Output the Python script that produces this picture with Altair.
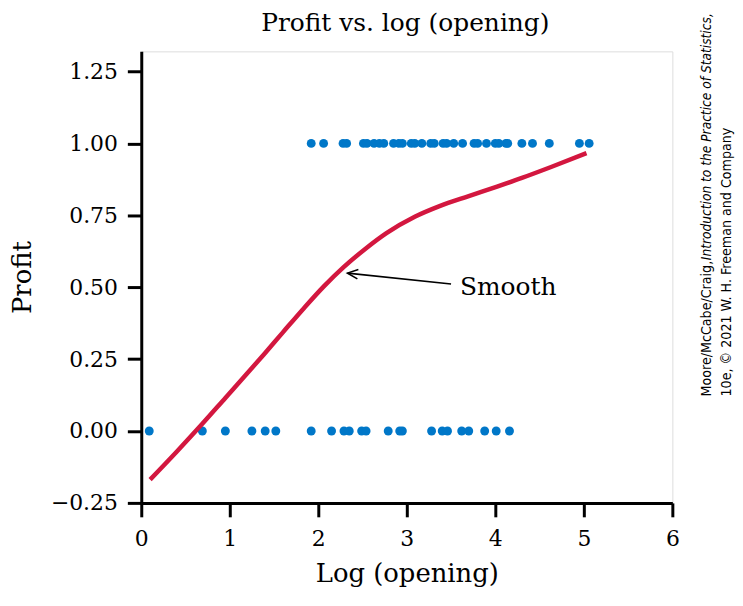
import altair as alt
import pandas as pd

# ---- data ----
top_x = [1.92, 2.06, 2.28, 2.32, 2.51, 2.55, 2.63, 2.69, 2.74, 2.85, 2.91, 2.95,
         3.05, 3.09, 3.17, 3.27, 3.31, 3.41, 3.45, 3.53, 3.63, 3.76, 3.80, 3.90,
         4.00, 4.04, 4.12, 4.14, 4.30, 4.42, 4.61, 4.95, 5.06]
bottom_x = [0.09, 0.69, 0.95, 1.25, 1.40, 1.52, 1.92, 2.15, 2.29, 2.35, 2.49, 2.54,
            2.79, 2.92, 2.95, 3.28, 3.40, 3.46, 3.62, 3.70, 3.88, 4.01, 4.16]
smooth_x = [0.10, 0.40, 0.69, 0.95, 1.19, 1.39, 1.60, 1.84, 2.06, 2.28, 2.53,
            2.77, 3.09, 3.37, 3.70, 4.02, 4.30, 4.63, 5.03]
smooth_y = [-0.169, -0.072, 0.025, 0.115, 0.198, 0.268, 0.343, 0.428, 0.502,
            0.568, 0.633, 0.688, 0.745, 0.782, 0.817, 0.850, 0.880, 0.918, 0.966]
arrow_x = [3.50, 2.33]
arrow_y = [0.511, 0.549]
label_text = ["Smooth"]
label_x = [3.60]
label_y = [0.50]
x_ticks = [0, 1, 2, 3, 4, 5, 6]
y_ticks = [-0.25, 0.0, 0.25, 0.50, 0.75, 1.00, 1.25]
title_text = ["Profit vs. log (opening)"]
credit_1a = ["Moore/McCabe/Craig, "]
credit_1b = ["Introduction to the Practice of Statistics,"]
credit_2 = ["10e, \u00a9 2021 W. H. Freeman and Company"]

SERIF = "DejaVu Serif"
NARROW = "Liberation Sans Narrow, DejaVu Sans Condensed, sans-serif"
W, H = 534, 454

pts = pd.DataFrame({"x": top_x + bottom_x,
                    "y": [1.0] * len(top_x) + [0.0] * len(bottom_x)})
smooth = pd.DataFrame({"x": smooth_x, "y": smooth_y})
arrow = pd.DataFrame({"x": arrow_x, "y": arrow_y})
tip = pd.DataFrame({"x": arrow_x[1:], "y": arrow_y[1:]})
lab = pd.DataFrame({"t": label_text, "x": label_x, "y": label_y})

xs = alt.Scale(domain=[0, 6], nice=False, zero=False)
ys = alt.Scale(domain=[-0.25, 1.32], nice=False, zero=False)

x_enc = alt.X("x:Q", scale=xs, axis=alt.Axis(
    values=x_ticks, format="d", title="Log (opening)", grid=False, labelFlush=False,
    labelFont=SERIF, labelFontSize=22, labelColor="black", labelPadding=12,
    titleFont=SERIF, titleFontSize=26, titleFontWeight="normal", titleColor="black",
    titlePadding=11, tickSize=14, tickWidth=3, tickColor="black",
    domainWidth=3, domainColor="black"))
y_enc = alt.Y("y:Q", scale=ys, axis=alt.Axis(
    values=y_ticks, format=".2f", title="Profit", grid=False, labelFlush=False,
    labelFont=SERIF, labelFontSize=22, labelColor="black", labelPadding=10,
    titleFont=SERIF, titleFontSize=26, titleFontWeight="normal", titleColor="black",
    titlePadding=15, tickSize=14, tickWidth=3, tickColor="black",
    domainWidth=3, domainColor="black"))

dots = alt.Chart(pts).mark_circle(size=80, color="#0077c8", opacity=1).encode(x=x_enc, y=y_enc)
curve = alt.Chart(smooth).mark_line(color="#d3173f", strokeWidth=4.5,
                                    interpolate="monotone").encode(x="x:Q", y="y:Q")
arrow_line = alt.Chart(arrow).mark_line(color="black", strokeWidth=1.6).encode(x="x:Q", y="y:Q")
arrow_head = alt.Chart(tip).mark_point(
    shape="M1,-0.45 L0,0 L1,0.45", size=440, angle=6,
    filled=False, stroke="black", strokeWidth=1.6, opacity=1).encode(x="x:Q", y="y:Q")
text = alt.Chart(lab).mark_text(font=SERIF, fontSize=25, align="left",
                                baseline="middle", color="black").encode(
    x="x:Q", y="y:Q", text="t:N")

title = alt.Chart(pd.DataFrame({"t": title_text})).mark_text(
    font=SERIF, fontSize=25, align="center", baseline="alphabetic",
    color="black").encode(x=alt.value(531 / 2), y=alt.value(-20), text="t:N")

FS = 14.2
c1 = alt.Chart(pd.DataFrame({"t": credit_1a})).mark_text(
    font=NARROW, fontSize=FS, angle=270, align="left", baseline="middle",
    color="black").encode(x=alt.value(569), y=alt.value(347), text="t:N")
c2 = alt.Chart(pd.DataFrame({"t": credit_1b})).mark_text(
    font=NARROW, fontSize=13.7, fontStyle="italic", angle=270, align="left",
    baseline="middle", color="black").encode(x=alt.value(569), y=alt.value(210), text="t:N")
c3 = alt.Chart(pd.DataFrame({"t": credit_2})).mark_text(
    font=NARROW, fontSize=FS, angle=270, align="left", baseline="middle",
    color="black").encode(x=alt.value(589), y=alt.value(347), text="t:N")

chart = alt.layer(dots, curve, arrow_line, arrow_head, text, title, c1, c2, c3).properties(
    width=W, height=H,
    padding={"left": 134, "top": 42, "right": 63, "bottom": 90},
    autosize=alt.AutoSizeParams(type="none"),
).configure_view(stroke=None).configure(background="white")

chart.save("out.html", embed_options={"renderer": "svg", "actions": False})
